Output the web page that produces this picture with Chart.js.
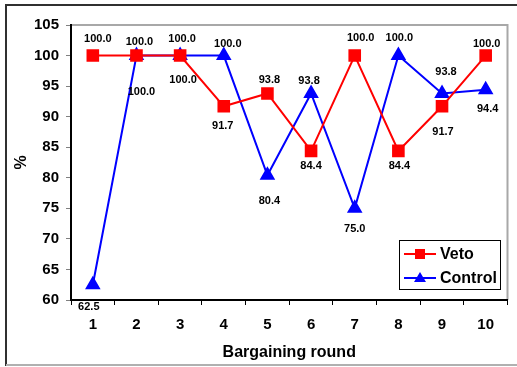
<!DOCTYPE html>
<html>
<head>
<meta charset="utf-8">
<script src="https://cdn.jsdelivr.net/npm/chart.js@4"></script>
<style>
  html, body { margin: 0; padding: 0; background: #fff; }
  canvas { display: block; }
</style>
</head>
<body>
<canvas id="roundChart" width="517" height="367"></canvas>
<script>
// Data
const rounds = ['1', '2', '3', '4', '5', '6', '7', '8', '9', '10'];
const vetoValues = [100.0, 100.0, 100.0, 91.7, 93.8, 84.4, 100.0, 84.4, 91.7, 100.0];
const controlValues = [62.5, 100.0, 100.0, 100.0, 80.4, 93.8, 75.0, 100.0, 93.8, 94.4];
const yTicks = [60, 65, 70, 75, 80, 85, 90, 95, 100, 105];

// Label placement (pixel offsets from each point)
const vetoLabelDx = [5, 3, 2, -1, 2, 0, 6, 1, 1, 1];
const vetoLabelDy = [-17, -14, -17, 20, -13, 15, -18, 15, 26, -12];
const controlLabelDx = [-4, 5, 3, 4, 2, -2, 0, 1, 4, 2];
const controlLabelDy = [22, 36, 24, -12, 26, -12, 21, -18, -21, 19];

const fontFamily = '"Liberation Sans", Arial, sans-serif';
const red = '#ff0000';
const blue = '#0000ff';

// Frame, plot border, value labels and legend
const decorations = {
  id: 'decorations',
  beforeDraw(chart) {
    const ctx = chart.ctx;
    ctx.save();
    ctx.fillStyle = '#fff';
    ctx.fillRect(0, 0, chart.width, chart.height);
    ctx.lineWidth = 2;
    ctx.strokeStyle = '#303030';
    ctx.beginPath();
    ctx.moveTo(6, 366);
    ctx.lineTo(6, 5);
    ctx.lineTo(517, 5);
    ctx.stroke();
    ctx.strokeStyle = '#b0b0b0';
    ctx.beginPath();
    ctx.moveTo(6, 365);
    ctx.lineTo(517, 365);
    ctx.stroke();
    const a = chart.chartArea;
    ctx.lineWidth = 2;
    ctx.strokeStyle = '#a8a8a8';
    ctx.beginPath();
    ctx.moveTo(a.left, a.top);
    ctx.lineTo(a.right, a.top);
    ctx.lineTo(a.right, a.bottom);
    ctx.stroke();
    ctx.restore();
  },
  afterDatasetsDraw(chart) {
    const ctx = chart.ctx;
    ctx.save();
    ctx.font = 'bold 11px ' + fontFamily;
    ctx.fillStyle = '#000';
    ctx.textAlign = 'center';
    ctx.textBaseline = 'middle';
    const offsets = [[vetoLabelDx, vetoLabelDy], [controlLabelDx, controlLabelDy]];
    chart.data.datasets.forEach((ds, di) => {
      chart.getDatasetMeta(di).data.forEach((pt, i) => {
        ctx.fillText(ds.data[i].toFixed(1), pt.x + offsets[di][0][i], pt.y + offsets[di][1][i]);
      });
    });

    // legend box
    ctx.fillStyle = '#fff';
    ctx.fillRect(399, 240, 102, 50);
    ctx.lineWidth = 1;
    ctx.strokeStyle = '#000';
    ctx.strokeRect(399.5, 240.5, 101, 49);
    chart.data.datasets.forEach((ds, di) => {
      const y = 254 + di * 24;
      ctx.strokeStyle = ds.borderColor;
      ctx.lineWidth = 2;
      ctx.beginPath();
      ctx.moveTo(404, y);
      ctx.lineTo(436, y);
      ctx.stroke();
      ctx.fillStyle = ds.backgroundColor;
      ctx.beginPath();
      if (di === 0) {
        ctx.rect(415, y - 5, 10, 10);
      } else {
        ctx.moveTo(420, y - 6);
        ctx.lineTo(426, y + 4);
        ctx.lineTo(414, y + 4);
        ctx.closePath();
      }
      ctx.fill();
      ctx.fillStyle = '#000';
      ctx.font = 'bold 16px ' + fontFamily;
      ctx.textAlign = 'left';
      ctx.fillText(ds.label, 440, y + 1);
    });
    ctx.restore();
  }
};

new Chart(document.getElementById('roundChart'), {
  type: 'line',
  data: {
    labels: rounds,
    datasets: [
      {
        label: 'Veto',
        data: vetoValues,
        borderColor: red,
        backgroundColor: red,
        borderWidth: 2,
        pointStyle: 'rect',
        pointRadius: 7.5,
        pointHoverRadius: 7.5,
        lineTension: 0,
        clip: false
      },
      {
        label: 'Control',
        data: controlValues,
        borderColor: blue,
        backgroundColor: blue,
        borderWidth: 2,
        pointStyle: 'triangle',
        pointRadius: 7,
        pointHoverRadius: 7,
        lineTension: 0,
        clip: false
      }
    ]
  },
  options: {
    responsive: false,
    animation: false,
    events: [],
    layout: { padding: { left: 0, top: 25, right: 7, bottom: 0 } },
    plugins: {
      legend: { display: false },
      tooltip: { enabled: false }
    },
    scales: {
      x: {
        offset: true,
        afterFit(scale) { scale.height = 67; },
        grid: {
          offset: true,
          drawOnChartArea: false,
          drawTicks: true,
          tickLength: 5,
          tickColor: '#000',
          tickWidth: 1
        },
        border: { color: '#000', width: 2 },
        ticks: {
          color: '#000',
          padding: 11,
          maxRotation: 0,
          font: { family: fontFamily, size: 15, weight: 'bold' }
        },
        title: {
          display: true,
          text: 'Bargaining round',
          color: '#000',
          padding: { top: 0, bottom: 5 },
          font: { family: fontFamily, size: 16, weight: 'bold' }
        }
      },
      y: {
        min: 60,
        max: 105,
        afterFit(scale) { scale.width = 71; },
        afterBuildTicks(scale) { scale.ticks = yTicks.map(v => ({ value: v })); },
        grid: {
          drawOnChartArea: false,
          drawTicks: true,
          tickLength: 5,
          tickColor: '#808080',
          tickWidth: 1
        },
        border: { color: '#000', width: 2 },
        ticks: {
          color: '#000',
          padding: 7,
          font: { family: fontFamily, size: 15, weight: 'bold' }
        },
        title: {
          display: true,
          text: '%',
          color: '#000',
          padding: { top: 12, bottom: 0 },
          font: { family: fontFamily, size: 16, weight: 'bold' }
        }
      }
    }
  },
  plugins: [decorations]
});
</script>
</body>
</html>
